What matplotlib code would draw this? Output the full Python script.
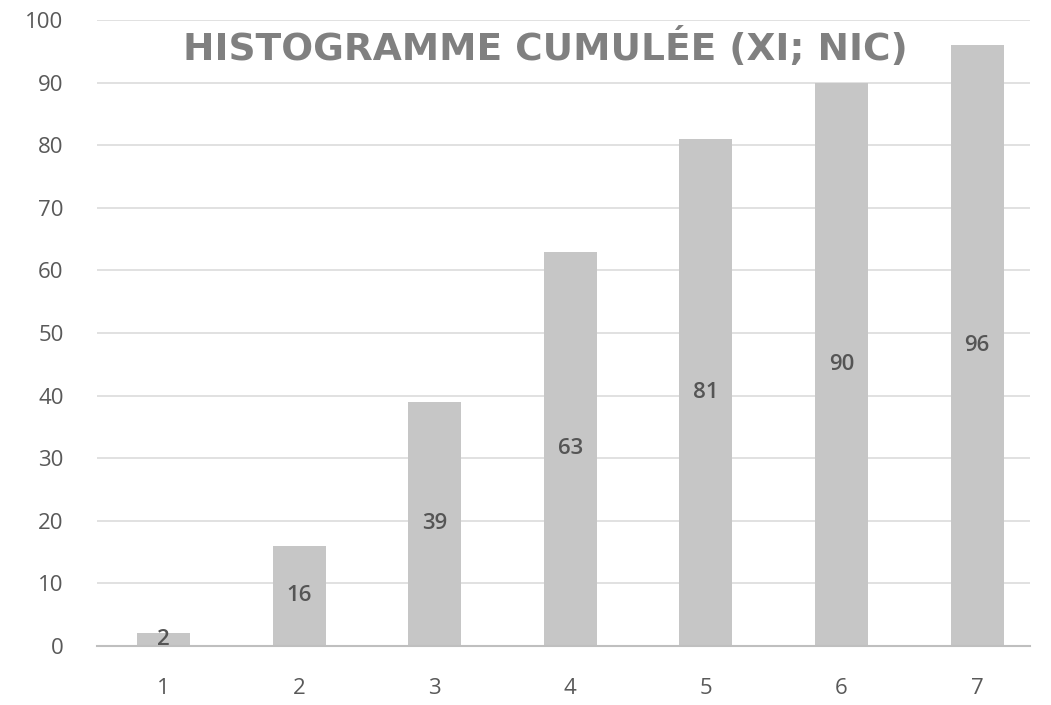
import matplotlib.pyplot as plt

categories = [1, 2, 3, 4, 5, 6, 7]
values = [2, 16, 39, 63, 81, 90, 96]
title = "HISTOGRAMME CUMULÉE (XI; NIC)"

plt.rcParams['font.family'] = ['Open Sans', 'DejaVu Sans']

fig = plt.figure(figsize=(10.51, 7.05), dpi=100)
ax = fig.add_axes([97 / 1051, 59 / 705, (1030 - 97) / 1051, (646 - 20) / 705])

bars = ax.bar(categories, values, width=0.39, color='#c6c6c6', zorder=2)
for b, v in zip(bars, values):
    ax.text(b.get_x() + b.get_width() / 2, v / 2, str(v), ha='center', va='center',
            fontsize=16, fontweight='semibold', color='#555555', zorder=3)

ax.set_xlim(0.51, 7.39)
ax.set_ylim(0, 100)
ax.set_yticks(range(0, 101, 10))
ax.set_xticks(categories)
ax.yaxis.grid(True, color='#dcdcdc', linewidth=1.2, zorder=0)
ax.set_axisbelow(True)
for s in ['top', 'right', 'left']:
    ax.spines[s].set_visible(False)
ax.spines['bottom'].set_color('#bfbfbf')
ax.spines['bottom'].set_linewidth(1.5)
ax.tick_params(axis='both', length=0, labelsize=16, labelcolor='#595959')
ax.tick_params(axis='x', pad=23)
ax.tick_params(axis='y', pad=24)

# titre dans la zone du graphique, police large pour rappeler l'espacement
fig.text(545 / 1051, 1 - 48 / 705, title, ha='center', va='center', fontsize=27,
         fontweight='bold', color='#808080', family=['DejaVu Sans'])

fig.savefig('out.png', dpi=100)
